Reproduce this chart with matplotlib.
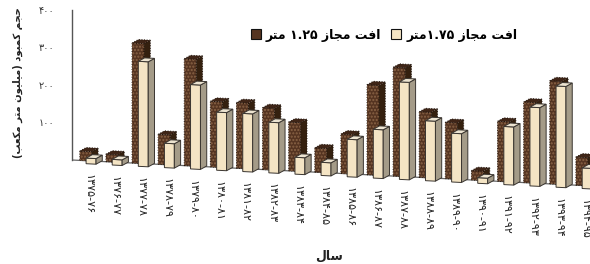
import re
import numpy as np
import matplotlib
matplotlib.use("Agg")
import matplotlib.pyplot as plt
from matplotlib.patches import Polygon, Patch
from matplotlib.transforms import Affine2D

# ---------------- data ----------------
categories = ['۱۳۷۵-۷۶', '۱۳۷۶-۷۷', '۱۳۷۷-۷۸', '۱۳۷۸-۷۹', '۱۳۷۹-۸۰',
              '۱۳۸۰-۸۱', '۱۳۸۱-۸۲', '۱۳۸۲-۸۳', '۱۳۸۳-۸۴', '۱۳۸۴-۸۵',
              '۱۳۸۵-۸۶', '۱۳۸۶-۸۷', '۱۳۸۷-۸۸', '۱۳۸۸-۸۹', '۱۳۸۹-۹۰',
              '۱۳۹۰-۹۱', '۱۳۹۱-۹۲', '۱۳۹۲-۹۳', '۱۳۹۳-۹۴', '۱۳۹۴-۹۵']
deficit_125 = [25, 20, 320, 80, 285, 175, 175, 165, 130, 65,
               105, 240, 290, 175, 150, 25, 160, 215, 275, 75]
deficit_175 = [15, 15, 280, 65, 225, 155, 155, 135, 45, 35,
               100, 130, 260, 160, 130, 15, 155, 210, 270, 55]
series_names = ['افت مجاز ۱.۲۵ متر', 'افت مجاز ۱.۷۵متر']
ytick_values = [100, 200, 300, 400]
ytick_labels = ['۱۰۰', '۲۰۰', '۳۰۰', '۴۰۰']
ylabel_text = 'حجم کمبود (میلیون متر مکعب)'
xlabel_text = 'سال'

# ------------- minimal Persian shaping + RTL ordering -------------
AR = {
    'ا': ('\ufe8d', '\ufe8e', None, None),
    'ب': ('\ufe8f', '\ufe90', '\ufe91', '\ufe92'),
    'ت': ('\ufe95', '\ufe96', '\ufe97', '\ufe98'),
    'ج': ('\ufe9d', '\ufe9e', '\ufe9f', '\ufea0'),
    'ح': ('\ufea1', '\ufea2', '\ufea3', '\ufea4'),
    'د': ('\ufea9', '\ufeaa', None, None),
    'ر': ('\ufead', '\ufeae', None, None),
    'ز': ('\ufeaf', '\ufeb0', None, None),
    'س': ('\ufeb1', '\ufeb2', '\ufeb3', '\ufeb4'),
    'ع': ('\ufec9', '\ufeca', '\ufecb', '\ufecc'),
    'ف': ('\ufed1', '\ufed2', '\ufed3', '\ufed4'),
    'ل': ('\ufedd', '\ufede', '\ufedf', '\ufee0'),
    'م': ('\ufee1', '\ufee2', '\ufee3', '\ufee4'),
    'ن': ('\ufee5', '\ufee6', '\ufee7', '\ufee8'),
    'و': ('\ufeed', '\ufeee', None, None),
    'ک': ('\ufb8e', '\ufb8f', '\ufb90', '\ufb91'),
    'ی': ('\ufbfc', '\ufbfd', '\ufbfe', '\ufbff'),
}


def shape(s):
    out = []
    for k, c in enumerate(s):
        if c not in AR:
            out.append(c)
            continue
        p = s[k - 1] if k > 0 else ''
        n = s[k + 1] if k + 1 < len(s) else ''
        jp = p in AR and AR[p][2] is not None
        jn = n in AR and AR[c][2] is not None
        iso, fin, ini, med = AR[c]
        if jp and jn:
            out.append(med)
        elif jp:
            out.append(fin)
        elif jn:
            out.append(ini)
        else:
            out.append(iso)
    return ''.join(out)


def rtl(s):
    s = shape(s)
    runs = re.findall(r'[0-9۰-۹]+(?:[.٫][0-9۰-۹]+)*|[^0-9۰-۹]+', s)
    out = []
    for r in reversed(runs):
        if r[0].isdigit():
            out.append(r)
        else:
            out.append(r[::-1].translate(str.maketrans('()', ')(')))
    return ''.join(out)


plt.rcParams['font.family'] = ['DejaVu Sans']

W, H = 590, 264
fig = plt.figure(figsize=(W / 100, H / 100), dpi=100)
fig.patch.set_facecolor('white')
ax_left_px = 72
ax = fig.add_axes([ax_left_px / W, 64 / H, (W - ax_left_px) / W, 190 / H])
ax.set_xlim(-0.74, 19.1)
ax.set_ylim(-106.67, 400)

# perspective: floor slopes down to the right
k = 0.05
skew = Affine2D(np.array([[1, 0, 0], [-k, 1, k * ax_left_px], [0, 0, 1]]))
trans = ax.transData + skew

DARK = dict(front='#553421', top='#3f2517', side='#34200f', edge='#1e120a', hatch='#8a6446')
LIGHT = dict(front='#f4e4c4', top='#ece3d0', side='#a49b88', edge='#3a3530', hatch=None)


def box(x0, base, w, h, c, dx=0.24, dy=10, ls='-'):
    bars = ax.bar([x0], [h], width=w, bottom=base, align='edge',
                  facecolor=c['front'], edgecolor=c['edge'], linewidth=0.7,
                  linestyle=ls, zorder=2)
    for r in bars:
        r.set_transform(trans)
    if c['hatch']:
        hb = ax.bar([x0], [h], width=w, bottom=base, align='edge',
                    facecolor='none', edgecolor=c['hatch'], linewidth=0,
                    hatch='.....', zorder=2)
        for r in hb:
            r.set_transform(trans)
    top = [(x0, base + h), (x0 + dx, base + h + dy),
           (x0 + w + dx, base + h + dy), (x0 + w, base + h)]
    side = [(x0 + w, base), (x0 + w + dx, base + dy),
            (x0 + w + dx, base + h + dy), (x0 + w, base + h)]
    ax.add_patch(Polygon(side, closed=True, transform=trans, facecolor=c['side'],
                         edgecolor=c['edge'], linewidth=0.7, linestyle=ls, zorder=2))
    ax.add_patch(Polygon(top, closed=True, transform=trans, facecolor=c['top'],
                         edgecolor=c['edge'], linewidth=0.7, linestyle=ls, zorder=2))


x = np.arange(len(categories))
for i in x:
    box(i - 0.44, 0, 0.46, deficit_125[i], DARK, ls=':')
    box(i - 0.20, -8, 0.38, deficit_175[i], LIGHT)

# floor line
ax.plot([-0.74, 19.5], [0, 0], transform=trans, color='#666666', lw=0.9, zorder=1)

# x tick labels (follow the sloped floor)
for i, lab in zip(x, categories):
    ax.text(i - 0.12, -36, lab, transform=trans, rotation=-90, ha='center',
            va='top', fontsize=8, color='#222222')

ax.set_xticks([])
ax.set_yticks(ytick_values)
ax.set_yticklabels(ytick_labels, fontsize=7, color='#333333')
ax.tick_params(axis='y', length=0, pad=13)
for s in ['top', 'right', 'bottom']:
    ax.spines[s].set_visible(False)
ax.spines['left'].set_bounds(0, 400)
ax.spines['left'].set_color('#555555')
ax.spines['left'].set_linewidth(1.0)

fig.text(18 / W, 1 - 83 / H, rtl(ylabel_text), rotation=90, ha='center',
         va='center', fontsize=7.2, fontweight='bold', color='#222222')
fig.text(329 / W, 1 - 256 / H, rtl(xlabel_text), ha='center', va='center',
         fontsize=9, fontweight='bold', color='#222222')

handles = [Patch(facecolor=DARK['front'], edgecolor='#111111', linewidth=0.8),
           Patch(facecolor=LIGHT['front'], edgecolor='#111111', linewidth=0.8)]
fig.legend(handles, [rtl(n) for n in series_names], ncol=2,
           loc='center', bbox_to_anchor=(384 / W, 1 - 35 / H), frameon=False,
           prop=dict(size=9, weight='bold'), handlelength=0.8,
           handleheight=0.8, handletextpad=0.4, columnspacing=0.8)

fig.savefig('out.png', dpi=100, facecolor='white')
